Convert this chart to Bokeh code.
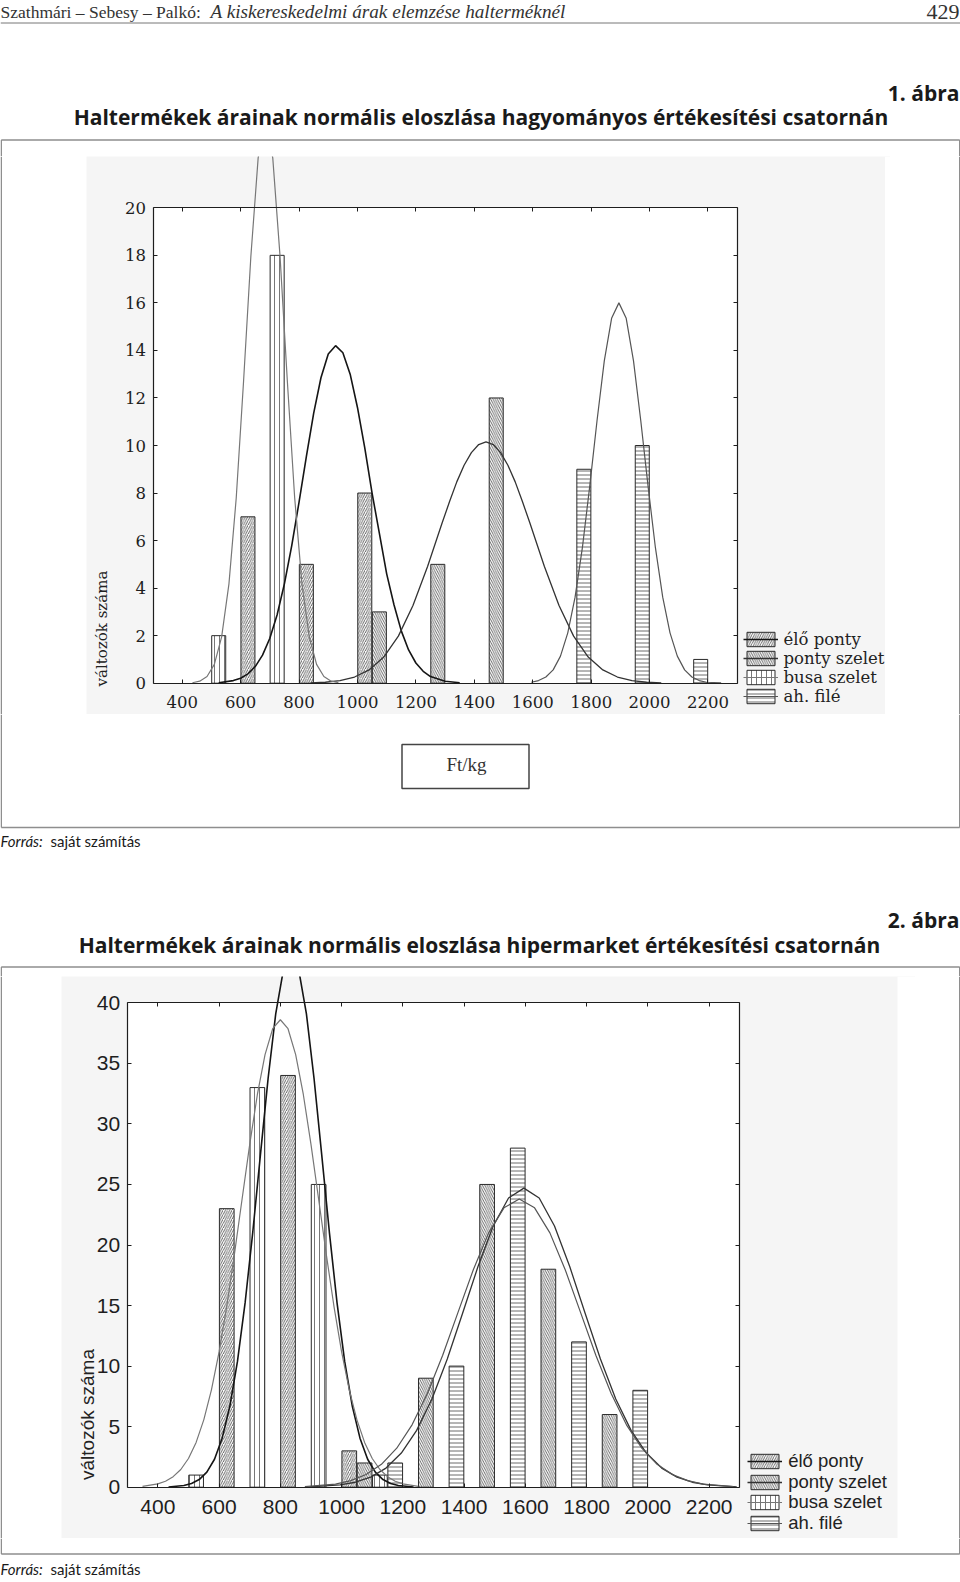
import math
from bokeh.plotting import figure
from bokeh.models import (Range1d, LinearAxis, FixedTicker, BoxAnnotation, Label,
                          Legend, LegendItem, ColumnDataSource)
from bokeh.layouts import column, row
from bokeh.transform import dodge
from bokeh.core.properties import value
from bokeh.embed import file_html
from bokeh.resources import INLINE

# ---------------------------------------------------------------- data
series_names = ["élő ponty", "ponty szelet", "busa szelet", "ah. filé"]
x_ticks = [400, 600, 800, 1000, 1200, 1400, 1600, 1800, 2000, 2200]
x_limits = [300, 2300]
c1_y_ticks = [0, 2, 4, 6, 8, 10, 12, 14, 16, 18, 20]
c2_y_ticks = [0, 5, 10, 15, 20, 25, 30, 35, 40]

# chart 1 (hagyományos csatorna): bin lower bounds (Ft/kg) and counts
c1_elo_bins = [600, 800, 1000]
c1_elo_cnt = [7, 5, 8]
c1_psz_bins = [1000, 1200, 1400]
c1_psz_cnt = [3, 5, 12]
c1_busa_bins = [400, 600]
c1_busa_cnt = [2, 18]
c1_ahf_bins = [1600, 1800, 2000]
c1_ahf_cnt = [9, 10, 1]

# chart 1 fitted normal curves
c1_elo_cx = [525, 575, 600, 625, 650, 675, 700, 725, 750, 775, 800, 825, 850, 875, 900, 925,
             950, 975, 1000, 1025, 1050, 1075, 1100, 1125, 1150, 1175, 1200, 1225, 1250, 1300, 1350]
c1_elo_cy = [0.02, 0.11, 0.21, 0.39, 0.70, 1.18, 1.89, 2.88, 4.19, 5.79, 7.62, 9.53, 11.35, 12.85, 13.85, 14.2,
             13.9, 13.0, 11.6, 9.9, 8.0, 6.3, 4.6, 3.3, 2.2, 1.4, 0.85, 0.5, 0.28, 0.08, 0.02]
c1_psz_cx = [840, 890, 940, 990, 1040, 1090, 1140, 1190, 1240, 1290, 1315, 1340, 1365, 1390, 1415, 1440,
             1465, 1490, 1515, 1540, 1565, 1590, 1640, 1690, 1740, 1790, 1840, 1890, 1940, 1990, 2040]
c1_psz_cy = [0.015, 0.04, 0.11, 0.26, 0.56, 1.10, 1.98, 3.27, 4.91, 6.75, 7.63, 8.47, 9.17, 9.70, 10.04, 10.15,
             10.04, 9.70, 9.17, 8.47, 7.63, 6.75, 4.91, 3.27, 1.98, 1.10, 0.56, 0.26, 0.11, 0.04, 0.015]
c1_busa_cx = [435, 460, 485, 510, 535, 560, 585, 610, 635, 660, 685, 710, 735, 760, 785, 810, 835, 860, 885, 910, 935]
c1_busa_cy = [0.02, 0.085, 0.28, 0.79, 1.95, 4.18, 7.80, 12.69, 17.95, 22.1, 23.7, 22.1, 17.95, 12.69, 7.80,
              4.18, 1.95, 0.79, 0.28, 0.085, 0.02]
c1_ahf_cx = [1595, 1620, 1645, 1670, 1695, 1720, 1745, 1770, 1795, 1820, 1845, 1870, 1895, 1920, 1945,
             1970, 1995, 2020, 2045, 2070, 2095, 2120, 2145, 2170, 2195, 2245]
c1_ahf_cy = [0.04, 0.11, 0.26, 0.56, 1.14, 2.12, 3.62, 5.70, 8.27, 11.03, 13.56, 15.35, 16.0, 15.35, 13.56,
             11.03, 8.27, 5.70, 3.62, 2.12, 1.14, 0.56, 0.26, 0.11, 0.04, 0.01]

# chart 2 (hipermarket csatorna)
c2_elo_bins = [600, 800, 1000]
c2_elo_cnt = [23, 34, 3]
c2_psz_bins = [1000, 1200, 1400, 1600, 1800]
c2_psz_cnt = [2, 9, 25, 18, 6]
c2_busa_bins = [400, 600, 800, 1000]
c2_busa_cnt = [1, 33, 25, 1]
c2_ahf_bins = [1000, 1200, 1400, 1600, 1800]
c2_ahf_cnt = [2, 10, 28, 12, 8]

c2_elo_cx = [435, 485, 510, 535, 560, 585, 610, 635, 660, 685, 710, 735, 760, 785, 810, 835,
             860, 885, 910, 935, 960, 985, 1010, 1035, 1060, 1085, 1110, 1135, 1160, 1185, 1235]
c2_elo_cy = [0.02, 0.14, 0.30, 0.63, 1.25, 2.31, 4.05, 6.68, 10.39, 15.24, 21.07, 27.46, 33.75, 39.11, 42.72, 44.0,
             42.72, 39.11, 33.75, 27.46, 21.07, 15.24, 10.39, 6.68, 4.05, 2.31, 1.25, 0.63, 0.30, 0.14, 0.02]
c2_busa_cx = [350, 400, 425, 450, 475, 500, 525, 550, 575, 600, 625, 650, 675, 700, 725, 750, 775, 800,
              825, 850, 875, 900, 925, 950, 975, 1000, 1025, 1050, 1075, 1100, 1125, 1150, 1175, 1200, 1250]
c2_busa_cy = [0.07, 0.27, 0.49, 0.87, 1.46, 2.37, 3.70, 5.56, 8.04, 11.17, 14.94, 19.22, 23.78, 28.31, 32.43,
              35.72, 37.86, 38.6, 37.86, 35.72, 32.43, 28.31, 23.78, 19.22, 14.94, 11.17, 8.04, 5.56, 3.70,
              2.37, 1.46, 0.87, 0.49, 0.27, 0.07]
c2_psz_cx = [895, 995, 1045, 1095, 1145, 1195, 1245, 1295, 1345, 1395, 1445, 1495, 1545, 1595,
             1645, 1695, 1745, 1795, 1845, 1895, 1945, 1995, 2045, 2095, 2145, 2195, 2290]
c2_psz_cy = [0.03, 0.19, 0.41, 0.83, 1.58, 2.82, 4.69, 7.29, 10.58, 14.36, 18.20, 21.57, 23.88, 24.7,
             23.88, 21.57, 18.20, 14.36, 10.58, 7.29, 4.69, 2.82, 1.58, 0.83, 0.41, 0.19, 0.03]
c2_ahf_cx = [880, 980, 1030, 1080, 1130, 1180, 1230, 1280, 1330, 1380, 1430, 1480, 1530, 1580,
             1630, 1680, 1730, 1780, 1830, 1880, 1930, 1980, 2030, 2080, 2130, 2180, 2280]
c2_ahf_cy = [0.05, 0.26, 0.54, 1.05, 1.89, 3.22, 5.15, 7.73, 10.90, 14.44, 17.96, 21.00, 23.07, 23.8,
             23.07, 21.00, 17.96, 14.44, 10.90, 7.73, 5.15, 3.22, 1.89, 1.05, 0.54, 0.26, 0.05]

# texts
header_left = "Szathmári – Sebesy – Palkó:"
header_italic = "A kiskereskedelmi árak elemzése halterméknél"
page_no = "429"
fig1_no = "1. ábra"
fig1_title = "Haltermékek árainak normális eloszlása hagyományos értékesítési csatornán"
fig2_no = "2. ábra"
fig2_title = "Haltermékek árainak normális eloszlása hipermarket értékesítési csatornán"
x_unit = "Ft/kg"
y_label = "változók száma"
source_a = "Forrás:"
source_b = "saját számítás"

# ---------------------------------------------------------------- styles
GRAY_BG = "#f5f5f5"
FRAME = "#8e8e8e"
TITLE_FONT = "Open Sans"
CAP_FONT = "Lato"
BAR_STYLES = [
    dict(hatch_pattern="/", hatch_scale=4.5, hatch_weight=0.9, hatch_color="#555"),
    dict(hatch_pattern="\\", hatch_scale=4.5, hatch_weight=0.9, hatch_color="#5a5a5a"),
    dict(hatch_pattern="|", hatch_scale=5, hatch_weight=1, hatch_color="#777"),
    dict(hatch_pattern="-", hatch_scale=4, hatch_weight=0.9, hatch_color="#5a5a5a"),
]
LINE_STYLES = [("#151515", 1.6), ("#333333", 1.3), ("#777777", 1.2), ("#555555", 1.2)]


def deco(y0, y1, x0=0, x1=960):
    p = figure(width=int(x1 - x0), height=int(y1 - y0), x_range=Range1d(x0, x1), y_range=Range1d(y1, y0),
               output_backend="svg", toolbar_location=None, x_axis_type=None, y_axis_type=None,
               min_border=0, outline_line_color=None, background_fill_color="white",
               border_fill_color="white")
    return p


def txt(p, x, y, s, font, size, style="normal", align="left", color="#1a1a1a"):
    p.text(x=[x], y=[y], text=[s], text_font=value(font), text_font_size=size, text_font_style=style,
           text_align=align, text_baseline="middle", text_color=color)


def build_chart(canvas, gray_right, plot, ymax, yticks, bars, curves, font, tick_size, x_standoff,
                legend_size, legend_x, legend_tops, legend_h, ylabel_xy, ylabel_size):
    cx0, cx1, cy0, cy1 = canvas
    px0, px1, py_top, py_bot = plot
    sx = (x_limits[1] - x_limits[0]) / (px1 - px0)
    sy = ymax / (py_bot - py_top)
    xr = Range1d(x_limits[0] - (px0 - cx0) * sx, x_limits[1] + (cx1 - px1) * sx)
    yr = Range1d(-(cy1 - py_bot) * sy, ymax + (py_top - cy0) * sy)
    p = figure(width=cx1 - cx0, height=cy1 - cy0, x_range=xr, y_range=yr, output_backend="svg",
               toolbar_location=None, x_axis_type=None, y_axis_type=None, min_border=0,
               outline_line_color=None, background_fill_color=GRAY_BG, border_fill_color=GRAY_BG)

    # white margin to the right of the grey chart area
    p.add_layout(BoxAnnotation(left=xr.start + (gray_right - cx0) * sx, fill_color="white", fill_alpha=1,
                               line_color=None, level="underlay"))
    # white plotting area
    p.add_layout(BoxAnnotation(left=x_limits[0], right=x_limits[1], bottom=0, top=ymax,
                               fill_color="white", fill_alpha=1, line_color=None, level="underlay"))
    inner = yticks[1:-1]
    p.segment(x0=[x_limits[0]] * len(inner), x1=[x_limits[1]] * len(inner), y0=inner, y1=inner,
              line_color="#e9e9e9", line_width=1, level="underlay")

    bar_rs = []
    for i, (bins, cnt) in enumerate(bars):
        src = ColumnDataSource(dict(bin=bins, count=cnt))
        r = p.vbar(x=dodge("bin", 25 + 50 * i), top="count", width=48, source=src,
                   fill_color="white", line_color="#2a2a2a", line_width=1, **BAR_STYLES[i])
        bar_rs.append(r)
    line_rs = []
    for i, (cx, cy) in enumerate(curves):
        col, w = LINE_STYLES[i]
        line_rs.append(p.line(cx, cy, line_color=col, line_width=w))

    common = dict(axis_line_color="#1e1e1e", axis_line_width=1.2, major_tick_line_color="#1e1e1e",
                  major_tick_in=4, major_tick_out=0, minor_tick_line_color=None,
                  major_label_text_font=font, major_label_text_font_size=tick_size,
                  major_label_text_color="#1e1e1e")
    p.add_layout(LinearAxis(fixed_location=0, bounds=tuple(x_limits), ticker=FixedTicker(ticks=x_ticks),
                            major_label_standoff=x_standoff, **common), "below")
    p.add_layout(LinearAxis(fixed_location=ymax, bounds=tuple(x_limits), ticker=FixedTicker(ticks=x_ticks),
                            **dict(common, major_label_text_color=None)), "above")
    p.add_layout(LinearAxis(fixed_location=x_limits[0], bounds=(0, ymax), ticker=FixedTicker(ticks=yticks),
                            major_label_standoff=7, **common), "left")
    p.add_layout(LinearAxis(fixed_location=x_limits[1], bounds=(0, ymax), ticker=FixedTicker(ticks=yticks),
                            **dict(common, major_label_text_color=None)), "right")

    for i in range(4):
        item = LegendItem(label=series_names[i], renderers=[bar_rs[i], line_rs[i]])
        leg = Legend(items=[item], location=(legend_x - cx0, cy1 - (legend_tops[i] + legend_h)),
                     background_fill_alpha=0, border_line_color=None, label_text_font=font,
                     label_text_font_size=legend_size, label_text_color="#222", glyph_width=35,
                     glyph_height=18, label_height=18, label_standoff=6, spacing=0,
                     padding=0, margin=0)
        p.add_layout(leg)

    lxp, lyp = ylabel_xy
    p.add_layout(Label(x=xr.start + (lxp - cx0) * sx, y=yr.start + (cy1 - lyp) * sy, text=y_label,
                       angle=math.pi / 2, text_align="center", text_baseline="middle",
                       text_font=font, text_font_size=ylabel_size, text_color="#222"))
    return p


# ---------------------------------------------------------------- page pieces
XL, XR = 0.75, 959.25

top = deco(0, 156)
txt(top, 0, 11, header_left, "Liberation Serif", "17.5px", color="#333")
txt(top, 210, 11, header_italic, "Liberation Serif", "19.2px", style="italic", color="#333")
txt(top, 959, 11, page_no, "Liberation Serif", "22px", align="right", color="#333")
top.segment(x0=[0], x1=[960], y0=[22.5], y1=[22.5], line_color="#777", line_width=1)
txt(top, 959, 92.5, fig1_no, TITLE_FONT, "21px", style="bold", align="right")
txt(top, 480.5, 116.5, fig1_title, TITLE_FONT, "21px", style="bold", align="center")
top.segment(x0=[XL, XL, XR], x1=[XR, XL, XR], y0=[139.5, 139.5, 139.5], y1=[139.5, 156, 156],
            line_color=FRAME, line_width=1.5)

chart1 = build_chart(
    canvas=(86, 890, 156, 714), gray_right=884.5, plot=(152.5, 736.7, 207.3, 682.7), ymax=20,
    yticks=c1_y_ticks,
    bars=[(c1_elo_bins, c1_elo_cnt), (c1_psz_bins, c1_psz_cnt), (c1_busa_bins, c1_busa_cnt),
          (c1_ahf_bins, c1_ahf_cnt)],
    curves=[(c1_elo_cx, c1_elo_cy), (c1_psz_cx, c1_psz_cy), (c1_busa_cx, c1_busa_cy), (c1_ahf_cx, c1_ahf_cy)],
    font="DejaVu Serif", tick_size="16.5px", x_standoff=13, legend_size="16.5px", legend_x=742.5,
    legend_tops=[629.4, 648.4, 667.4, 686.4], legend_h=19.2, ylabel_xy=(101, 628), ylabel_size="15px")

b_left = deco(156, 714, 0, 86)
b_left.segment(x0=[XL], x1=[XL], y0=[156], y1=[714], line_color=FRAME, line_width=1.5)
b_right = deco(156, 714, 890, 960)
b_right.segment(x0=[XR], x1=[XR], y0=[156], y1=[714], line_color=FRAME, line_width=1.5)

mid = deco(714, 976)
mid.segment(x0=[XL, XR, XL], x1=[XL, XR, XR], y0=[714, 714, 827], y1=[827, 827, 827],
            line_color=FRAME, line_width=1.5)
mid.quad(left=[401.5], right=[528.5], top=[744], bottom=[788], fill_color="white",
         line_color="#444", line_width=1.5)
txt(mid, 466, 764, x_unit, "Liberation Serif", "19px", align="center", color="#333")
txt(mid, 0, 840, source_a, CAP_FONT, "15px", style="italic")
txt(mid, 50, 840, source_b, CAP_FONT, "15px")
txt(mid, 959, 919.5, fig2_no, TITLE_FONT, "21px", style="bold", align="right")
txt(mid, 479, 944.5, fig2_title, TITLE_FONT, "21px", style="bold", align="center")
mid.segment(x0=[XL, XL, XR], x1=[XR, XL, XR], y0=[966.5, 966.5, 966.5], y1=[966.5, 976, 976],
            line_color=FRAME, line_width=1.5)

chart2 = build_chart(
    canvas=(61, 915, 976, 1538), gray_right=897, plot=(126.7, 739.3, 1002.3, 1486.7), ymax=40,
    yticks=c2_y_ticks,
    bars=[(c2_elo_bins, c2_elo_cnt), (c2_psz_bins, c2_psz_cnt), (c2_busa_bins, c2_busa_cnt),
          (c2_ahf_bins, c2_ahf_cnt)],
    curves=[(c2_elo_cx, c2_elo_cy), (c2_psz_cx, c2_psz_cy), (c2_busa_cx, c2_busa_cy), (c2_ahf_cx, c2_ahf_cy)],
    font="Liberation Sans", tick_size="21px", x_standoff=13, legend_size="18.5px", legend_x=747.2,
    legend_tops=[1451.7, 1472.2, 1492.7, 1513.2], legend_h=20.7, ylabel_xy=(87, 1414),
    ylabel_size="19px")

d_left = deco(976, 1538, 0, 61)
d_left.segment(x0=[XL], x1=[XL], y0=[976], y1=[1538], line_color=FRAME, line_width=1.5)
d_right = deco(976, 1538, 915, 960)
d_right.segment(x0=[XR], x1=[XR], y0=[976], y1=[1538], line_color=FRAME, line_width=1.5)

bot = deco(1538, 1582)
bot.segment(x0=[XL, XR, XL], x1=[XL, XR, XR], y0=[1538, 1538, 1553.5], y1=[1553.5, 1553.5, 1553.5],
            line_color=FRAME, line_width=1.5)
txt(bot, 0, 1568, source_a, CAP_FONT, "15px", style="italic")
txt(bot, 50, 1568, source_b, CAP_FONT, "15px")

layout = column(top, row(b_left, chart1, b_right), mid, row(d_left, chart2, d_right), bot)

open("out.html", "w").write(file_html(layout, INLINE, title="Haltermékek árainak normális eloszlása"))
